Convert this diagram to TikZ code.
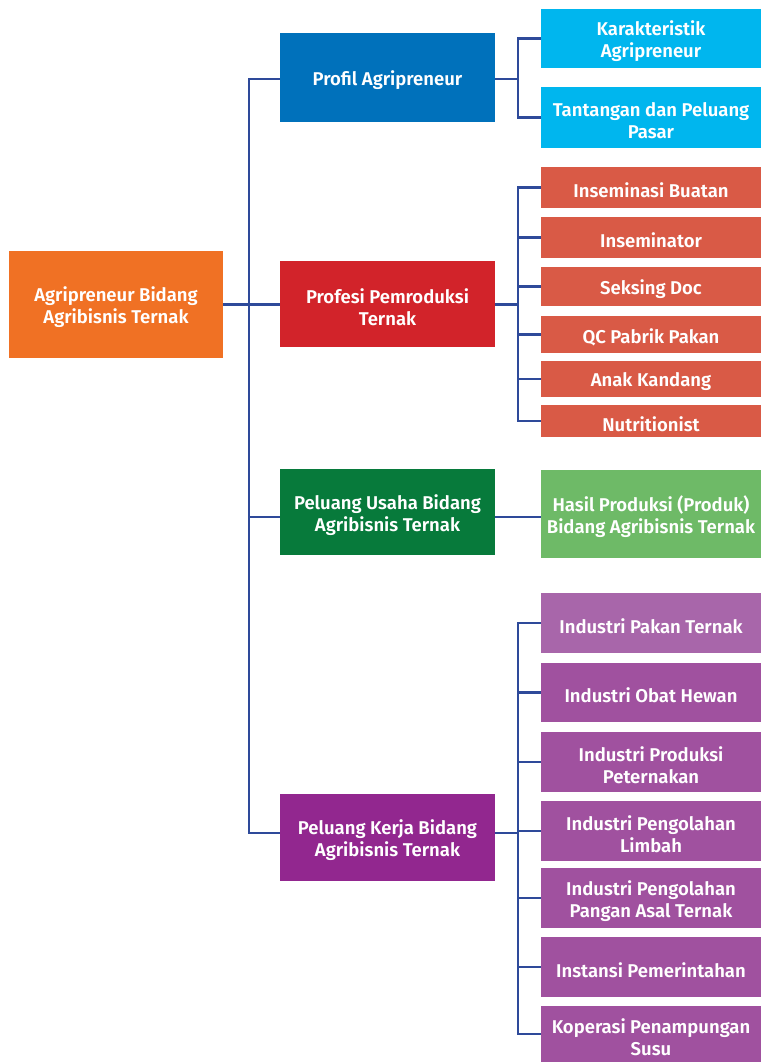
\documentclass[tikz,border=0pt]{standalone}
\usepackage{fontspec}
\setmainfont{Fira Sans}[BoldFont={Fira Sans SemiBold}]
\definecolor{rootorange}{HTML}{F07124}
\definecolor{profilblue}{HTML}{0071BB}
\definecolor{profilsub}{HTML}{00B6EE}
\definecolor{profesired}{HTML}{D2232A}
\definecolor{profesisub}{HTML}{D95A46}
\definecolor{usahagreen}{HTML}{077A3B}
\definecolor{usahasub}{HTML}{6EBA67}
\definecolor{kerjapurple}{HTML}{92278F}
\definecolor{kerjasub}{HTML}{A0519F}
\definecolor{kerjasubtop}{HTML}{A866AA}
\definecolor{linkblue}{HTML}{2E4A9A}
\begin{document}
\begin{tikzpicture}[x=1pt,y=-1pt,
  boxtext/.style={inner sep=0pt, align=center, text=white, yshift=-3pt,
    font=\bfseries\fontsize{18.5}{22}\selectfont},
  box/.style={rectangle, inner sep=0pt, label={[boxtext]center:#1}},
  mainbox/.style={box={#1}, minimum width=215pt, minimum height=86pt},
  subbox/.style={box={#1}, minimum width=220pt},
  link/.style={draw=linkblue, line width=2.2pt}]
\useasboundingbox (0,0) rectangle (761,1062);

% root
\node[box={Agripreneur Bidang\\Agribisnis Ternak}, fill=rootorange,
  minimum width=214pt, minimum height=107pt] (root) at (116,304.5) {};

% first level
\node[mainbox={Profil Agripreneur}, fill=profilblue, minimum height=89pt] (profil) at (387.5,77.5) {};
\node[mainbox={Profesi Pemroduksi\\Ternak}, fill=profesired] (profesi) at (387.5,304) {};
\node[mainbox={Peluang Usaha Bidang\\Agribisnis Ternak}, fill=usahagreen] (usaha) at (387.5,512) {};
\node[mainbox={Peluang Kerja Bidang\\Agribisnis Ternak}, fill=kerjapurple, minimum height=87pt] (kerja) at (387.5,837.5) {};

% second level: profil
\node[subbox={Karakteristik\\Agripreneur}, fill=profilsub, minimum height=59pt] (kar) at (651,38.5) {};
\node[subbox={Tantangan dan Peluang\\Pasar}, fill=profilsub, minimum height=61pt] (tan) at (651,117.5) {};

% second level: profesi
\node[subbox={Inseminasi Buatan}, fill=profesisub, minimum height=41pt] (ib) at (651,187.5) {};
\node[subbox={Inseminator}, fill=profesisub, minimum height=41pt] (inr) at (651,237.5) {};
\node[subbox={Seksing Doc}, fill=profesisub, minimum height=39pt] (sek) at (651,286.5) {};
\node[subbox={QC Pabrik Pakan}, fill=profesisub, minimum height=37pt] (qc) at (651,334.5) {};
\node[subbox={Anak Kandang}, fill=profesisub, minimum height=36pt] (anak) at (651,379) {};
\node[subbox={Nutritionist}, fill=profesisub, minimum height=32pt] (nut) at (651,421) {};

% second level: usaha
\node[subbox={Hasil Produksi (Produk)\\Bidang Agribisnis Ternak}, fill=usahasub, minimum height=88pt] (hasil) at (651,514) {};

% second level: kerja
\node[subbox={Industri Pakan Ternak}, fill=kerjasubtop, minimum height=60pt] (ipt) at (651,623) {};
\node[subbox={Industri Obat Hewan}, fill=kerjasub, minimum height=59pt] (obat) at (651,692.5) {};
\node[subbox={Industri Produksi\\Peternakan}, fill=kerjasub, minimum height=60pt] (prod) at (651,762) {};
\node[subbox={Industri Pengolahan\\Limbah}, fill=kerjasub, minimum height=60pt] (limb) at (651,831) {};
\node[subbox={Industri Pengolahan\\Pangan Asal Ternak}, fill=kerjasub, minimum height=60pt] (pang) at (651,898) {};
\node[subbox={Instansi Pemerintahan}, fill=kerjasub, minimum height=60pt] (inst) at (651,967) {};
\node[subbox={Koperasi Penampungan\\Susu}, fill=kerjasub, minimum height=56pt] (kop) at (651,1034) {};

% trunk and branch points
\coordinate (ttop) at (249,79);
\coordinate (tbot) at (249,833);
\coordinate (tusaha) at (249,517);
\coordinate (bprofil) at (518,79);
\coordinate (bprofesi) at (518,304.5);
\coordinate (bkerja) at (518,833);

% trunk
\draw[link] (profil.west |- ttop) -- (ttop) -- (tbot) -- (kerja.west |- tbot);
\draw[link] (root.east) -- (profesi.west |- root.east);
\draw[link] (tusaha) -- (usaha.west |- tusaha);

% profil branch
\draw[link] (profil.east |- bprofil) -- (bprofil);
\draw[link] (kar.west) -| (bprofil) |- (tan.west);

% profesi branch
\draw[link] (profesi.east |- bprofesi) -- (bprofesi);
\draw[link] (ib.west) -| (bprofesi) |- (nut.west);
\foreach \n in {inr,sek,qc,anak} \draw[link] (bprofesi |- \n.west) -- (\n.west);

% usaha branch
\draw[link] (usaha.east |- tusaha) -- (hasil.west |- tusaha);

% kerja branch
\draw[link] (kerja.east |- bkerja) -- (bkerja);
\draw[link] (ipt.west) -| (bkerja) |- (kop.west);
\foreach \n in {obat,prod,limb,pang,inst} \draw[link] (bkerja |- \n.west) -- (\n.west);
\end{tikzpicture}
\end{document}
